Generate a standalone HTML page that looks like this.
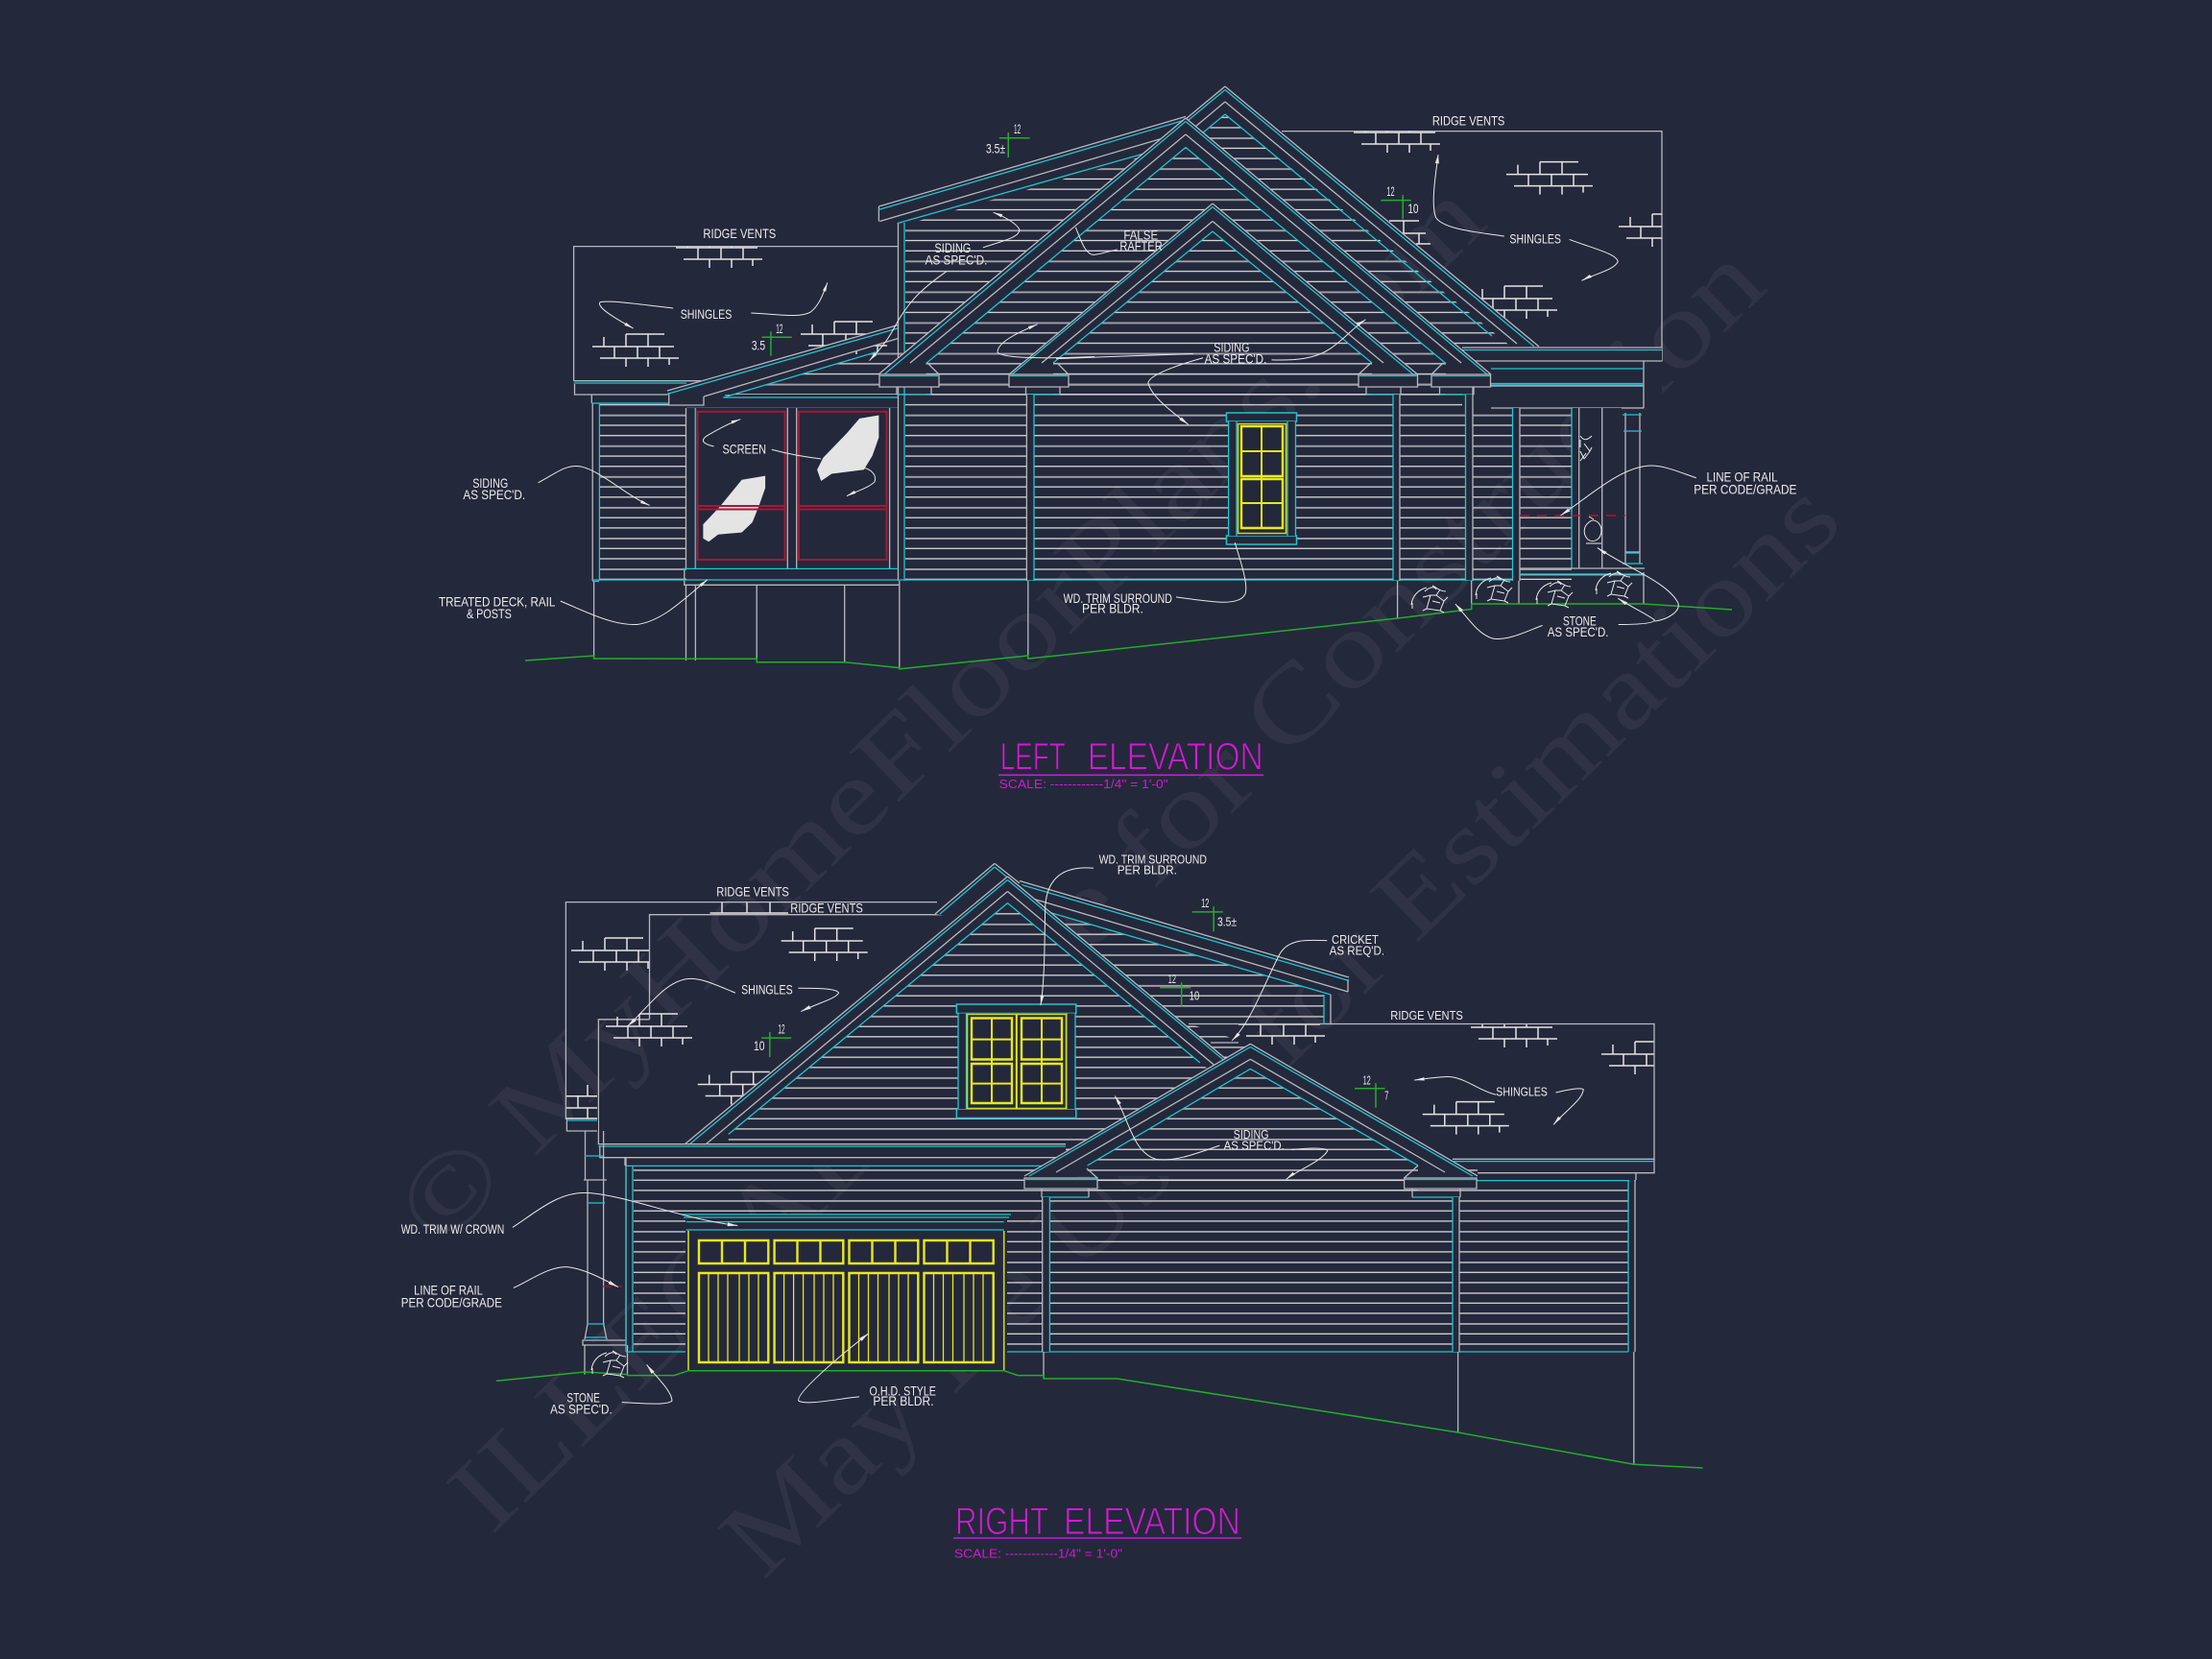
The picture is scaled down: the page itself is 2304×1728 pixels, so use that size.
<!DOCTYPE html>
<html><head><meta charset="utf-8"><title>Left and Right Elevation</title>
<style>
html,body{margin:0;padding:0;background:#24283b}
svg{display:block}
svg *{vector-effect:non-scaling-stroke}
.w{stroke:#b8b8c0;stroke-width:1.3;fill:none}
.c{stroke:#22c4cc;stroke-width:1.3;fill:none}
.g{stroke:#22ad2c;stroke-width:1.5;fill:none}
.y{stroke:#e8e81e;stroke-width:2.4;fill:none}
.yg{stroke:#cfd41e;stroke-width:1.6;fill:none}
.r{stroke:#a01a34;stroke-width:2;fill:none}
.l{stroke:#e8e8e8;stroke-width:1;fill:none}
.b{stroke:#e4e4e4;stroke-width:1.5;fill:none}
.f{fill:#24283b;stroke:none}
.pc{fill:#24283b;stroke:#22c4cc;stroke-width:1.5}
.pw{fill:#24283b;stroke:#b8b8c0;stroke-width:1.3}
text{font-family:"Liberation Sans",sans-serif;fill:#ececec;stroke:none}
.t1 text{font-size:33px}.t3 text{font-size:28px}.t4 text{font-size:30px}
.tt{fill:#d01cd0;stroke:#24283b;stroke-width:1.1;font-size:40px;paint-order:fill}
.sc{fill:#d01cd0;font-size:13px}
.wm{font-family:"Liberation Serif",serif;fill:#ffffff;fill-opacity:.055;font-size:112px}
</style></head>
<body>
<svg xmlns="http://www.w3.org/2000/svg" width="2304" height="1728" viewBox="0 0 2304 1728">
<defs>
<pattern id="s1" x="0" y="14.8" width="40" height="32.07" patternUnits="userSpaceOnUse"><rect width="40" height="1.9" fill="#a0a0a8"/><rect y="10.69" width="40" height="1.2" fill="#e6e6e6"/><rect y="21.38" width="40" height="1.2" fill="#e6e6e6"/></pattern>
<pattern id="s2" x="0" y="1.6" width="40" height="32.01" patternUnits="userSpaceOnUse"><rect width="40" height="1.9" fill="#a0a0a8"/><rect y="10.67" width="40" height="1.2" fill="#e6e6e6"/><rect y="21.34" width="40" height="1.2" fill="#e6e6e6"/></pattern>
<g id="bk"><path class="b" d="M35 0H75M0 13H85M8 25H90M12 3V13M35 0V13M58 0V13M23 13V25M47 13V25M70 13V25M35 25V34M58 25V34M80 25V32"/></g>
<g id="st"><path class="l" d="M0 22C1 12 8 6 16 4M1 26V20M14 8C18 4 24 2 26 6M22 2C26 4 30 8 36 8M20 12L16 26L30 28L34 18L26 12ZM20 12L12 14M26 12L30 6M16 26L12 28M30 28L34 30M34 18L38 14M22 18L30 20"/></g>
<clipPath id="cp1"><rect x="590" y="256.6" width="346" height="200"/></clipPath>
<clipPath id="cp2"><rect x="1400" y="136.6" width="331" height="230"/></clipPath>
<clipPath id="cp3"><rect x="590" y="939" width="86" height="120"/></clipPath>
<clipPath id="cp4"><rect x="1230" y="1066.5" width="493" height="141"/></clipPath>
<marker id="a" markerUnits="userSpaceOnUse" markerWidth="24" markerHeight="14" refX="22" refY="6" orient="auto"><path d="M0 2L22 6L0 10Z" fill="#e8e8e8"/></marker>
</defs>
<rect width="2304" height="1728" fill="#24283b"/>

<!-- watermark -->
<text class="wm" transform="translate(457,1303) rotate(-44.3)" textLength="1530" lengthAdjust="spacingAndGlyphs">© MyHomeFloorPlans.com</text>
<text class="wm" transform="translate(512,1600) rotate(-44.3)" textLength="1860" lengthAdjust="spacingAndGlyphs">ILLEGAL to use for Construction</text>
<text class="wm" transform="translate(795,1647) rotate(-44.3)" textLength="1575" lengthAdjust="spacingAndGlyphs">May Be Used for Estimations</text>

<!-- ========= TOP: LEFT ELEVATION ========= -->
<polyline class="w" points="597.6,396.7 597.6,256.6 935.5,256.6"/>
<polyline class="w" points="1335,136.6 1731,136.6 1731,376 1523,376"/>
<g clip-path="url(#cp1)">
<use href="#bk" x="617" y="348"/><use href="#bk" x="834" y="335"/><use href="#bk" x="704" y="245"/>
</g>
<g clip-path="url(#cp2)">
<use href="#bk" x="1410" y="125"/><use href="#bk" x="1569" y="168.6"/><use href="#bk" x="1686" y="223"/><use href="#bk" x="1532" y="298"/>
<path class="b" d="M1447 230H1478M1457 243H1485M1475 254H1490M1462 230V243M1478 243V254"/>
</g>
<!-- left eave -->
<path class="w" d="M597.6 396.7H730M598.5 400V411H697M616.3 411.4V420M617.2 420V605M618.6 605V686"/>
<path class="c" d="M597.6 399H715M616.3 420H697M624.4 420V605"/>
<rect x="625" y="420" width="90" height="184" fill="url(#s1)"/>
<!-- main wall siding -->
<polygon points="943,234 1245,147 1276,119 1574,361 1534,361 1534,425 1637,425 1637,604 943,604" fill="url(#s1)"/>
<polygon points="755,413 943,358 943,411 755,411" fill="url(#s1)"/>
<!-- porch roof band -->
<polygon class="f" points="695,407 935.5,338.5 935.5,352 733,413 733,422 696.7,422"/>
<path class="w" d="M695 407L935.5 338.5M733 413L935.5 352.5M696.7 409V422H733V413"/>
<path class="c" d="M695 410.4L935.5 341.9M753.4 414L915 366M753.4 414H935.5M715 425.3H935.5"/>
<!-- porch -->
<rect class="f" x="714" y="425" width="222" height="168"/>
<path class="w" d="M714.5 425V592M724.4 425V592M820.3 425V592M829.7 425V592M926.6 425V592M935.5 232V605"/>
<path class="c" d="M724.4 425.3V592M942 232V605"/>
<rect class="r" x="726.6" y="428.7" width="91" height="154.3"/>
<rect class="r" x="832" y="428.7" width="91.5" height="154.3"/>
<polygon fill="#e4e4e4" points="895.3,435.9 915.4,432.5 915.4,455.6 908.7,474.6 899.8,489.3 866.3,493.5 855.2,501 851.1,489.3 857.4,476.7 881.9,451.4"/>
<polygon fill="#e4e4e4" points="772.6,499.8 797.1,495.6 797.1,508.2 790.4,527.2 783.7,544 772.6,554.6 748,556.7 738.2,564.2 732.4,560.9 732.4,546.1 750.2,527.2"/>
<path class="r" d="M726.6 527H817.7M726.6 530.5H817.7M832 527H923.5M832 530.5H923.5"/>
<!-- deck -->
<path class="c" d="M711.4 592.4H935.5"/>
<path class="w" d="M712.8 594V609.3H936.8M714.5 609V688M724.4 609V688M788.2 609V689.7M879.7 609V689.7M936.8 605V696.8M1070.8 605V686M1455.6 605V644M1532.7 605V634M1582 605V629M1712 596V629"/>
<path class="c" d="M617 604H1583M617 605.5H624"/>
<!-- shed (upper) roof -->
<polygon class="f" points="915.4,215 1235,121.4 1235,150 1100,177 916.3,232"/>
<path class="w" d="M915.4 215L1235 121.4M916.3 230.5L1235 137M915.4 215V230.5"/>
<path class="c" d="M915.4 218.4L1235 124.8M934.6 232.6L1195 159"/>
<!-- gable A -->
<polygon class="f" points="1276,90 1603,361 1574,361 1276,106 1245,132 1235,123"/>
<path class="w" d="M1276 90L1603 361M1276 106L1580 358M1276 90L1235 124M1276 106L1245 132"/>
<path class="c" d="M1276 93.5L1598 361M1276 119L1554 350M1276 93.5L1238 125M1276 119L1252 139"/>
<!-- right lower roof -->
<rect class="f" x="1523" y="362" width="208" height="63"/>
<path class="w" d="M1523 362H1731M1530 376H1731M1712 376V425M1553 402H1712M1553 425H1712"/>
<path class="c" d="M1523 364.5H1731M1553 384H1712M1553 399.5H1712M1553 401H1712"/>
<!-- gable B -->
<polygon class="f" points="1235,123 1553,390 915,390"/>
<polygon points="1235,153.5 1506,378.6 1506,411 964.5,411 964.5,378.6" fill="url(#s1)"/>
<path class="w" d="M1235 123L1553 390M1235 123L915 390M1235 140L1522 378M1235 140L948 378"/>
<path class="c" d="M1235 126.5L1549 390M1235 126.5L921 390M1235 153.5L1506 378.6M1235 153.5L964.5 378.6"/>
<!-- gable C -->
<polygon class="f" points="1263,212 1476.5,390 1051,390"/>
<polygon points="1263,241 1429,378 1429,411 1097,411 1097,378" fill="url(#s1)"/>
<path class="w" d="M1263 212L1476.5 390M1263 212L1051 390M1263 230.5L1441 378M1263 230.5L1085 378"/>
<path class="c" d="M1263 215.5L1472 390M1263 215.5L1054 390M1263 241L1429 378M1263 241L1097 378"/>
<!-- brackets -->
<g>
<rect class="pw" x="916" y="390" width="62" height="13"/><path class="c" d="M916 391.5H978M934 411H970"/><path class="w" d="M934 403V411M970 403V411M966 378L978 390"/>
<rect class="pw" x="1051" y="390" width="62" height="13"/><path class="c" d="M1051 391.5H1113M1068.5 411H1104"/><path class="w" d="M1068.5 403V411M1104 403V411M1101 378L1113 390"/>
<rect class="pw" x="1415" y="390" width="61.5" height="13"/><path class="c" d="M1415 391.5H1476M1423 411H1459"/><path class="w" d="M1423 403V411M1459 403V411M1415 390L1428 378"/>
<rect class="pw" x="1491" y="390" width="61.5" height="13"/><path class="c" d="M1491 391.5H1552M1499.5 411H1535"/><path class="w" d="M1499.5 403V411M1535 403V411M1491 390L1503 378"/>
</g>
<!-- posts -->
<rect class="f" x="1069.4" y="411" width="7.6" height="193"/><path class="c" d="M1077 411V605"/><path class="w" d="M1069.4 411V605"/>
<rect class="f" x="1451" y="411" width="7" height="193"/><path class="c" d="M1451 411V605"/><path class="w" d="M1458 411V605"/>
<rect class="f" x="1526.5" y="411" width="7.5" height="193"/><path class="c" d="M1526.5 411V605"/><path class="w" d="M1534 403V605"/>
<rect class="f" x="1575.5" y="425" width="7.5" height="180"/><path class="c" d="M1575.5 425V605"/><path class="w" d="M1583 425V605"/>
<!-- right porch -->
<rect class="f" x="1638" y="425" width="75" height="167"/>
<path class="c" d="M1637 425V592"/>
<path class="w" d="M1644.7 425V592M1668.7 425V592M1693 430V575M1708 430V575M1689 425H1712M1583 592H1713M1583 598.7H1713M1693 575H1708M1693 575V587M1708 575V587"/>
<path class="c" d="M1691 449H1710M1693 576H1708M1690 587H1711M1690 432H1710M1583 598H1711"/>
<path class="r" stroke-dasharray="10 8" d="M1583 537H1693" style="stroke-width:1.5"/>
<!-- window -->
<rect class="pc" x="1277.5" y="430" width="73" height="9"/>
<rect class="pc" x="1277.5" y="558" width="73" height="9"/>
<rect class="f" x="1279.6" y="439" width="70" height="119"/>
<path class="c" d="M1279.6 439V558M1288 439V558M1341 439V558M1349.5 439V558"/>
<rect class="yg" x="1289.5" y="441.5" width="50" height="114"/>
<rect class="y" x="1293" y="444" width="43" height="52"/>
<rect class="y" x="1293" y="499" width="43" height="51"/>
<path class="y" style="stroke-width:2" d="M1314 444V550M1293 470H1336M1293 524H1336"/>
<!-- green grade -->
<polyline class="g" points="547,688 618.6,683 618.6,686 788.2,686.3 788.2,689.7 879.7,689.7 936.8,695.6 936.8,696.8 1070.8,683 1070.8,686 1100,683 1455.6,644 1532.7,634.5 1532.7,629 1712,629 1804,635"/>
<!-- stone top -->
<use href="#st" x="1470" y="608"/><use href="#st" x="1537" y="598"/><use href="#st" x="1600" y="603"/><use href="#st" x="1662" y="593"/>
<path class="l" d="M1646 454C1650 460 1654 458 1658 454M1650 462L1656 470L1650 478M1646 470L1650 478M1646 480L1652 472M1656 470L1658 466M1646 458V466"/>
<path class="l" d="M1654 545C1660 538 1668 545 1668 552C1668 562 1660 566 1654 562C1648 556 1650 548 1654 545M1652 566H1668M1655 538L1660 541"/>

<!-- ========= TOP annotation: zoom 1 ========= -->
<g class="t1" transform="translate(440,60) scale(.4464,.4209)">
<path class="g" d="M1346 199H1417M1367 185V247M792 692H862M813 678V738"/>
<path class="l" marker-end="url(#a)" d="M585 620C500 610 440 600 415 605C405 615 440 640 492 670"/>
<path class="l" marker-end="url(#a)" d="M767 632C830 635 880 645 905 630C925 615 935 585 945 557"/>
<path class="l" marker-end="url(#a)" d="M1308 470C1350 455 1395 445 1393 425C1385 410 1360 395 1332 383"/>
<path class="l" marker-end="url(#a)" d="M1222 530C1160 575 1130 610 1100 670C1080 710 1060 730 1043 750"/>
<path class="l" marker-end="url(#a)" d="M270 1052C310 1030 335 1005 370 1012C420 1025 470 1080 530 1108"/>
<path class="l" marker-end="url(#a)" d="M322 1345C380 1370 440 1405 500 1403C560 1395 610 1340 665 1292"/>
<path class="l" marker-end="url(#a)" d="M680 962C650 955 650 945 665 935C690 920 715 905 742 895"/>
<path class="l" d="M815 970C850 980 890 988 930 993"/>
<path class="l" marker-end="url(#a)" d="M1030 1015C1050 1020 1060 1035 1055 1050C1040 1065 1015 1072 990 1085"/>
<path class="l" marker-end="url(#a)" d="M1568 740C1450 745 1360 745 1342 730C1340 705 1390 680 1435 660"/>
<text x="655" y="447" textLength="170" lengthAdjust="spacingAndGlyphs">RIDGE VENTS</text>
<text x="602" y="646" textLength="120" lengthAdjust="spacingAndGlyphs">SHINGLES</text>
<text x="1195" y="482" textLength="85" lengthAdjust="spacingAndGlyphs">SIDING</text>
<text x="1173" y="512" textLength="145" lengthAdjust="spacingAndGlyphs">AS SPEC'D.</text>
<text x="117" y="1064" textLength="83" lengthAdjust="spacingAndGlyphs">SIDING</text>
<text x="95" y="1093" textLength="145" lengthAdjust="spacingAndGlyphs">AS SPEC'D.</text>
<text x="38" y="1358" textLength="272" lengthAdjust="spacingAndGlyphs">TREATED DECK, RAIL</text>
<text x="103" y="1387" textLength="105" lengthAdjust="spacingAndGlyphs">&amp; POSTS</text>
<text x="700" y="980" textLength="102" lengthAdjust="spacingAndGlyphs">SCREEN</text>
<text x="1380" y="188" textLength="16" lengthAdjust="spacingAndGlyphs">12</text>
<text x="1315" y="237" textLength="45" lengthAdjust="spacingAndGlyphs">3.5±</text>
<text x="825" y="682" textLength="16" lengthAdjust="spacingAndGlyphs">12</text>
<text x="768" y="723" textLength="32" lengthAdjust="spacingAndGlyphs">3.5</text>
</g>
<!-- zoom 2 annotation -->
<g class="t1" transform="translate(1100,60) scale(.5102,.4209)">
<path class="g" d="M663 353H725M708 340V400"/>
<path class="l" d="M125 475C105 480 95 485 78 488C60 490 50 450 40 420"/>
<path class="l" d="M0 745L280 733"/>
<path class="l" marker-end="url(#a)" d="M440 748C490 750 530 745 560 720C590 695 605 670 632 648"/>
<path class="l" marker-end="url(#a)" d="M300 743C250 760 190 785 188 805C195 840 240 880 270 908"/>
<path class="l" d="M365 1200C375 1240 395 1310 385 1330C370 1360 310 1345 245 1335"/>
<path class="l" marker-end="url(#a)" d="M915 442C860 432 790 425 775 395C765 360 775 290 780 240"/>
<path class="l" marker-end="url(#a)" d="M1048 450C1090 470 1145 485 1147 505C1140 525 1100 535 1073 552"/>
<path class="l" marker-end="url(#a)" d="M1307 1040C1270 1025 1240 1008 1210 1010C1150 1015 1090 1085 1030 1133"/>
<path class="l" marker-end="url(#a)" d="M993 1405C960 1420 920 1445 890 1437C860 1425 840 1385 815 1352"/>
<path class="l" marker-end="url(#a)" d="M1148 1403C1190 1403 1220 1400 1222 1392C1210 1380 1175 1360 1147 1338"/>
<path class="l" marker-end="url(#a)" d="M1222 1395C1250 1390 1275 1370 1270 1350C1250 1300 1170 1265 1105 1213"/>
<text x="138" y="450" textLength="70" lengthAdjust="spacingAndGlyphs">FALSE</text>
<text x="130" y="478" textLength="87" lengthAdjust="spacingAndGlyphs">RAFTER</text>
<text x="768" y="167" textLength="148" lengthAdjust="spacingAndGlyphs">RIDGE VENTS</text>
<text x="675" y="342" textLength="16" lengthAdjust="spacingAndGlyphs">12</text>
<text x="718" y="385" textLength="22" lengthAdjust="spacingAndGlyphs">10</text>
<text x="926" y="460" textLength="105" lengthAdjust="spacingAndGlyphs">SHINGLES</text>
<text x="322" y="728" textLength="73" lengthAdjust="spacingAndGlyphs">SIDING</text>
<text x="303" y="757" textLength="127" lengthAdjust="spacingAndGlyphs">AS SPEC'D.</text>
<text x="1328" y="1049" textLength="145" lengthAdjust="spacingAndGlyphs">LINE OF RAIL</text>
<text x="1302" y="1080" textLength="210" lengthAdjust="spacingAndGlyphs">PER CODE/GRADE</text>
<text x="15" y="1350" textLength="222" lengthAdjust="spacingAndGlyphs">WD. TRIM SURROUND</text>
<text x="53" y="1374" textLength="125" lengthAdjust="spacingAndGlyphs">PER BLDR.</text>
<text x="1035" y="1405" textLength="68" lengthAdjust="spacingAndGlyphs">STONE</text>
<text x="1003" y="1433" textLength="125" lengthAdjust="spacingAndGlyphs">AS SPEC'D.</text>
</g>

<!-- title top -->
<text class="tt" x="1041.7" y="801.7" textLength="68" lengthAdjust="spacingAndGlyphs">LEFT</text>
<text class="tt" x="1132.7" y="801.7" textLength="183" lengthAdjust="spacingAndGlyphs">ELEVATION</text>
<path stroke="#c41cd8" stroke-width="1.6" fill="none" d="M1040 807.3H1316"/>
<text class="sc" x="1040.7" y="821" textLength="176" lengthAdjust="spacingAndGlyphs">SCALE: ------------1/4" = 1'-0"</text>

<!-- ========= BOTTOM: RIGHT ELEVATION ========= -->
<path class="w" d="M589.4 1166V939.6H976M676.5 1061.8V952.7H998M676.5 1061.8H623.4V1192.6"/>
<g clip-path="url(#cp3)"><use href="#bk" x="595" y="977"/></g>
<use href="#bk" x="813.7" y="967"/><use href="#bk" x="631" y="1056"/><use href="#bk" x="726.7" y="1116.5"/>
<path class="b" d="M590 1141.7H622M590 1154H622M590 1165H622M602 1141.7V1154M612 1154V1165M612 1130V1141.7"/>
<path class="b" d="M739.6 951H821M752 940V951M778 940V951M802 940V951"/>
<g clip-path="url(#cp4)">
<use href="#bk" x="1290" y="1054"/><use href="#bk" x="1532" y="1057"/><use href="#bk" x="1668" y="1085"/><use href="#bk" x="1481.8" y="1147.6"/>
</g>
<path class="w" d="M1238 1066.5H1723V1207.4H1513M1261 1086H1290"/>
<!-- upper siding -->
<polygon points="1062,941 1379,1034 1379,1066 1238,1066 1300,1087 1302,1225 1062,1225" fill="url(#s2)"/>
<!-- shed band -->
<polygon class="f" points="1062,917.5 1405,1018 1405,1033 1386,1036 1062,941"/>
<path class="w" d="M1062 917.5L1405 1018M1062 932L1404 1033M1404 1020V1033M1386 1036V1067"/>
<path class="c" d="M1062 921L1405 1021.5M1075 945L1386 1036M1379 1036V1067"/>
<!-- gable E -->
<polygon class="f" points="1036,899.4 1075,930 1020,960 974,952"/>
<path class="w" d="M1036 899.4L974 952M1036 899.4L1062 920"/>
<path class="c" d="M1036 903L979 952M1036 903L1058 921"/>
<!-- gable D -->
<polygon class="f" points="1049.5,913 1278,1104 1278,1192 713,1192"/>
<polygon points="1049.5,940.6 1278,1130 1278,1192 758.7,1192 758.7,1181.5" fill="url(#s2)"/>
<path class="w" d="M1049.5 913L1278 1104M1049.5 913L713 1192M1049.5 928.5L1275 1118M1049.5 928.5L735 1192"/>
<path class="c" d="M1049.5 916.5L1278 1107M1049.5 916.5L718 1192M1049.5 940.6L1250 1107M1049.5 940.6L758.7 1181.5"/>
<!-- dormer window -->
<rect class="pc" x="996.4" y="1046" width="124.4" height="9.5"/>
<rect class="pc" x="996.4" y="1155" width="124.4" height="9.5"/>
<rect class="f" x="998" y="1055.5" width="122" height="99.5"/>
<path class="c" d="M998 1055V1155M1006.5 1055V1155M1111 1055V1155M1120 1055V1155"/>
<rect class="yg" x="1007.5" y="1056.5" width="103" height="98"/>
<rect class="y" x="1012" y="1060.5" width="42" height="43"/><rect class="y" x="1012" y="1108" width="42" height="41"/>
<rect class="y" x="1064" y="1060.5" width="42" height="43"/><rect class="y" x="1064" y="1108" width="42" height="41"/>
<path class="y" style="stroke-width:2" d="M1033 1060.5V1149M1085 1060.5V1149M1012 1082.6H1054M1012 1128.6H1054M1064 1082.6H1106M1064 1128.6H1106M1058.8 1056.5V1155"/>
<!-- main wall siding -->
<rect x="660" y="1218" width="1036" height="189" fill="url(#s2)"/>
<!-- main eave -->
<rect class="f" x="623" y="1192" width="487" height="22"/>
<path class="w" d="M623.4 1191.7H1110M624.8 1193V1205.7H1110M651 1206V1214"/>
<path class="c" d="M623.4 1194H1110M651 1214.4H1085"/>
<!-- left column -->
<rect class="f" x="590" y="1166" width="33" height="12"/>
<path class="w" d="M590.4 1166V1178H622M609.5 1178V1229M628.6 1178V1229M652 1206V1396M612 1229V1379M628.6 1229V1379M608 1229H632M607 1396H652V1401H607ZM609 1401V1431.6M653.5 1401V1431.6M612 1379L609 1395M628.6 1379L632 1395"/>
<path class="c" d="M590.4 1167H622M609 1204H628M612 1253H630M612 1379H630M610 1393H632"/>
<path class="c" d="M652 1214V1408M659 1214V1408M652 1408H1696"/>
<path class="r" style="stroke-width:1.2" stroke-dasharray="8 4" d="M628 1340H652"/>
<!-- garage -->
<rect class="f" x="714" y="1265" width="335" height="163"/>
<path class="c" d="M710 1265H1053M712 1268H1051M714.7 1272.6H1045.7M714.7 1281H1045.7"/>
<path class="yg" d="M717 1282V1427.7M1045.7 1282V1427.7"/>
<g class="y">
<rect x="728" y="1292" width="72.3" height="24"/><rect x="806.6" y="1292" width="71.7" height="24"/><rect x="884.5" y="1292" width="71.8" height="24"/><rect x="962.5" y="1292" width="72.2" height="24"/>
<path d="M752 1292V1316M776 1292V1316M830.5 1292V1316M854.5 1292V1316M908.5 1292V1316M932.5 1292V1316M986.5 1292V1316M1010.5 1292V1316"/>
<rect x="728" y="1326" width="72.3" height="93"/><rect x="806.6" y="1326" width="71.7" height="93"/><rect x="884.5" y="1326" width="71.8" height="93"/><rect x="962.5" y="1326" width="72.2" height="93"/>
</g>
<path class="y" style="stroke-width:1.3" d="M738 1326V1419M748 1326V1419M758 1326V1419M770 1326V1419M780 1326V1419M790 1326V1419M816.6 1326V1419M826.6 1326V1419M836.6 1326V1419M848 1326V1419M858 1326V1419M868 1326V1419M894.5 1326V1419M904.5 1326V1419M914.5 1326V1419M926 1326V1419M936 1326V1419M946 1326V1419M972.5 1326V1419M982.5 1326V1419M992.5 1326V1419M1004 1326V1419M1014 1326V1419M1024 1326V1419"/>
<!-- gable F -->
<polygon class="f" points="1302.4,1087.3 1539,1225 1067,1225"/>
<polygon points="1302.4,1113.3 1477,1214 1477,1240 1132.6,1240 1132.6,1214" fill="url(#s2)"/>
<path class="w" d="M1302.4 1087.3L1539 1224.8M1302.4 1087.3L1067 1225M1302.4 1103.3L1505 1221M1302.4 1103.3L1100 1221"/>
<path class="c" d="M1302.4 1090.5L1534 1225M1302.4 1090.5L1072 1225M1302.4 1113.3L1477 1214M1302.4 1113.3L1132.6 1214"/>
<!-- right roof eave -->
<rect class="f" x="1539" y="1207.5" width="184" height="22"/>
<path class="w" d="M1513 1207.4H1723V1221.7H1539M1704 1222V1229"/>
<path class="c" d="M1513 1209.6H1723M1539 1229.6H1704"/>
<!-- brackets -->
<rect class="pw" x="1067" y="1227" width="76" height="11"/><path class="c" d="M1067 1228.5H1143M1085 1247H1134"/><path class="w" d="M1085 1238V1247M1134 1238V1247M1132 1217L1143 1227"/>
<rect class="pw" x="1462.6" y="1227" width="75.4" height="11"/><path class="c" d="M1462.6 1228.5H1538M1471 1247H1521"/><path class="w" d="M1471 1238V1247M1521 1238V1247M1462.6 1227L1477 1214"/>
<!-- posts -->
<rect class="f" x="1085.7" y="1247" width="7.7" height="161"/><path class="c" d="M1093.4 1247V1408"/><path class="w" d="M1085.7 1247V1408"/>
<rect class="f" x="1513" y="1247" width="7" height="161"/><path class="c" d="M1513 1247V1408"/><path class="w" d="M1520 1247V1408"/>
<rect class="f" x="1697" y="1229" width="6" height="179"/><path class="c" d="M1696 1229V1408"/><path class="w" d="M1703 1229V1408"/>
<path class="w" d="M1087 1408V1436M1518.6 1408V1492M1701.8 1408V1526"/>
<!-- grade -->
<polyline class="g" points="517,1438.4 609,1429 653.5,1431.6 653.5,1432.6 702.3,1432.6 717,1427.7 1045.7,1427.7 1060,1432.6 1087.3,1432.6 1087.3,1436 1163.7,1436 1518.6,1492 1701.8,1525.3 1773.5,1529"/>
<use href="#st" x="616" y="1405"/>

<!-- annotation G3 -->
<g class="t3" transform="translate(400,880) scale(.4783,.4847)">
<path class="g" d="M822 415H887M840 402V456"/>
<path class="l" marker-end="url(#a)" d="M765 318C720 300 690 285 660 288C610 295 575 350 530 390"/>
<path class="l" marker-end="url(#a)" d="M902 308C940 308 985 308 990 318C985 330 945 340 908 358"/>
<path class="l" marker-end="url(#a)" d="M1545 50C1480 45 1445 70 1440 130C1438 200 1440 280 1430 345"/>
<path class="l" marker-end="url(#a)" d="M280 822C330 790 380 745 440 748C520 750 650 805 770 818"/>
<path class="l" marker-end="url(#a)" d="M282 952C320 935 360 905 400 907C440 912 480 935 510 950"/>
<path class="l" marker-end="url(#a)" d="M518 1198C560 1200 615 1205 627 1195C628 1175 590 1140 572 1117"/>
<path class="l" marker-end="url(#a)" d="M1035 1186C990 1190 920 1205 903 1195C895 1180 990 1100 1055 1050"/>
<text x="724" y="110" textLength="158" lengthAdjust="spacingAndGlyphs">RIDGE VENTS</text>
<text x="885" y="145" textLength="158" lengthAdjust="spacingAndGlyphs">RIDGE VENTS</text>
<text x="778" y="321" textLength="112" lengthAdjust="spacingAndGlyphs">SHINGLES</text>
<text x="858" y="405" textLength="15" lengthAdjust="spacingAndGlyphs">12</text>
<text x="805" y="441" textLength="24" lengthAdjust="spacingAndGlyphs">10</text>
<text x="37" y="836" textLength="225" lengthAdjust="spacingAndGlyphs">WD. TRIM W/ CROWN</text>
<text x="65" y="967" textLength="150" lengthAdjust="spacingAndGlyphs">LINE OF RAIL</text>
<text x="37" y="993" textLength="220" lengthAdjust="spacingAndGlyphs">PER CODE/GRADE</text>
<text x="398" y="1198" textLength="72" lengthAdjust="spacingAndGlyphs">STONE</text>
<text x="362" y="1222" textLength="135" lengthAdjust="spacingAndGlyphs">AS SPEC'D.</text>
<text x="1057" y="1183" textLength="145" lengthAdjust="spacingAndGlyphs">O.H.D. STYLE</text>
<text x="1065" y="1205" textLength="132" lengthAdjust="spacingAndGlyphs">PER BLDR.</text>
</g>
<!-- annotation G4 -->
<g class="t4" transform="translate(1080,880) scale(.4783,.4337)">
<path class="g" d="M338 161H405M385 148V208M268 343H335M315 330V387M692 585H758M738 572V631"/>
<path class="l" marker-end="url(#a)" d="M632 230C590 228 550 225 530 260C500 320 470 420 425 470"/>
<path class="l" marker-end="url(#a)" d="M1000 600C960 590 930 555 890 557C865 558 845 562 822 565"/>
<path class="l" marker-end="url(#a)" d="M1130 595C1150 590 1180 582 1190 587C1190 610 1150 640 1125 672"/>
<path class="l" marker-end="url(#a)" d="M398 722C350 740 300 762 260 755C210 740 200 660 170 603"/>
<path class="l" marker-end="url(#a)" d="M555 732C590 728 630 725 633 735C620 760 570 780 543 803"/>
<text x="135" y="45" textLength="235" lengthAdjust="spacingAndGlyphs">WD. TRIM SURROUND</text>
<text x="175" y="70" textLength="130" lengthAdjust="spacingAndGlyphs">PER BLDR.</text>
<text x="358" y="150" textLength="17" lengthAdjust="spacingAndGlyphs">12</text>
<text x="393" y="195" textLength="42" lengthAdjust="spacingAndGlyphs">3.5±</text>
<text x="642" y="237" textLength="102" lengthAdjust="spacingAndGlyphs">CRICKET</text>
<text x="637" y="264" textLength="120" lengthAdjust="spacingAndGlyphs">AS REQ'D.</text>
<text x="286" y="332" textLength="17" lengthAdjust="spacingAndGlyphs">12</text>
<text x="332" y="372" textLength="22" lengthAdjust="spacingAndGlyphs">10</text>
<text x="770" y="420" textLength="158" lengthAdjust="spacingAndGlyphs">RIDGE VENTS</text>
<text x="710" y="575" textLength="17" lengthAdjust="spacingAndGlyphs">12</text>
<text x="757" y="612" textLength="9" lengthAdjust="spacingAndGlyphs">7</text>
<text x="1000" y="603" textLength="112" lengthAdjust="spacingAndGlyphs">SHINGLES</text>
<text x="428" y="705" textLength="77" lengthAdjust="spacingAndGlyphs">SIDING</text>
<text x="407" y="732" textLength="132" lengthAdjust="spacingAndGlyphs">AS SPEC'D.</text>
</g>

<!-- title bottom -->
<text class="tt" x="995" y="1598" textLength="97" lengthAdjust="spacingAndGlyphs">RIGHT</text>
<text class="tt" x="1108" y="1598" textLength="184" lengthAdjust="spacingAndGlyphs">ELEVATION</text>
<path stroke="#c41cd8" stroke-width="1.6" fill="none" d="M993 1602H1293"/>
<text class="sc" x="994" y="1622.4" textLength="175" lengthAdjust="spacingAndGlyphs">SCALE: ------------1/4" = 1'-0"</text>
</svg>
</body></html>
